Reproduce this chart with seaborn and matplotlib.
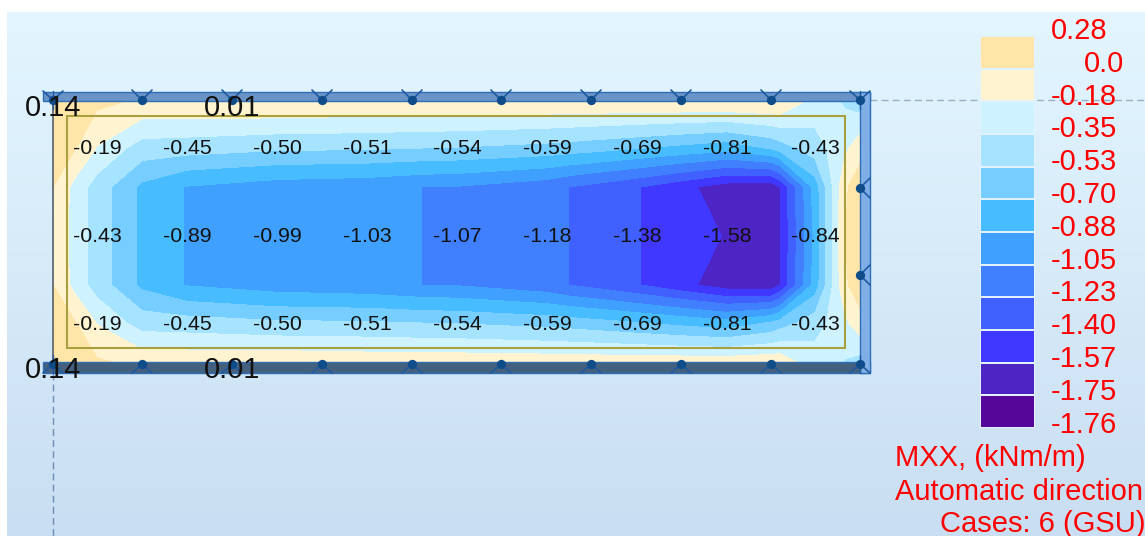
import numpy as np
import matplotlib
matplotlib.use("Agg")
import matplotlib.pyplot as plt
from matplotlib.colors import LinearSegmentedColormap, ListedColormap
from matplotlib.patches import Rectangle
import seaborn as sns

# ----------------------------------------
# DATA (MXX over the plate)
# ----------------------------------------

x_pos = [53, 75, 97, 142, 187, 277, 367, 422, 457, 547, 569, 637, 681, 727, 771, 780, 815, 845, 860]
y_pos = [100, 148, 187, 236, 285, 323, 367]

row_edge = [0.14, 0.09, 0.05, -0.02, -0.01, 0.01, -0.01, -0.01, -0.01, -0.01, -0.01, 0.0, 0.01, 0.02, 0.02, 0.01, -0.24, -0.38, -0.46]
row_upper = [0.06, 0.01, -0.19, -0.43, -0.45, -0.50, -0.51, -0.53, -0.54, -0.59, -0.61, -0.69, -0.75, -0.81, -0.68, -0.62, -0.43, -0.22, -0.07]
row_inner = [0.0, -0.24, -0.43, -0.74, -0.89, -0.97, -1.00, -1.05, -1.06, -1.16, -1.23, -1.39, -1.52, -1.66, -1.70, -1.57, -0.80, -0.03, 0.10]
row_mid = [-0.05, -0.24, -0.43, -0.74, -0.89, -0.99, -1.03, -1.05, -1.07, -1.18, -1.23, -1.39, -1.50, -1.58, -1.72, -1.57, -0.84, 0.0, 0.14]

levels = [-1.76, -1.75, -1.57, -1.40, -1.23, -1.05, -0.88, -0.70, -0.53, -0.35, -0.18, 0.0, 0.28]
band_colors = ["#FFE5A8", "#FFF4CF", "#CFF2FF", "#A5E3FF", "#75CEFF", "#47BDFF",
               "#3FA0FF", "#4080FF", "#4060FF", "#4038FF", "#4C25C4", "#56079A"]
legend_labels = ["0.28", "0.0", "-0.18", "-0.35", "-0.53", "-0.70", "-0.88",
                 "-1.05", "-1.23", "-1.40", "-1.57", "-1.75", "-1.76"]

label_x = [97, 187, 277, 367, 457, 547, 637, 727, 815]
label_y = [149, 237, 324]
upper_labels = ["-0.19", "-0.45", "-0.50", "-0.51", "-0.54", "-0.59", "-0.69", "-0.81", "-0.43"]
mid_labels = ["-0.43", "-0.89", "-0.99", "-1.03", "-1.07", "-1.18", "-1.38", "-1.58", "-0.84"]

support_x = [142, 232, 322, 412, 501, 591, 681, 771]
side_support_y = [188, 275]

# ----------------------------------------
# FIGURE
# ----------------------------------------

sns.set_theme(style="white")
plt.rcParams["font.family"] = ["Liberation Sans", "DejaVu Sans"]

fig = plt.figure(figsize=(11.45, 5.36), dpi=100, facecolor="white")
ax = fig.add_axes([0, 0, 1, 1])

# background gradient
bg = LinearSegmentedColormap.from_list("bg", ["#E3F6FF", "#C9DEF2"])
ax.imshow(np.linspace(0, 1, 256).reshape(-1, 1), cmap=bg, aspect="auto",
          extent=(7, 1145, 536, 12), zorder=0)

# plate contours
grid = np.array([row_edge, row_upper, row_inner, row_mid, row_inner, row_upper, row_edge])
ax.contourf(x_pos, y_pos, grid, levels=levels, colors=band_colors[::-1], zorder=1)

# dashed grid lines
ax.plot([870, 1145], [100, 100], color="#9AAFC4", lw=1, ls=(0, (5, 3)), zorder=2)
ax.plot([53, 53], [373, 536], color="#6E8FB5", lw=1, ls=(0, (5, 3)), zorder=2)

# inner rectangle and beams
ax.add_patch(Rectangle((67, 116), 778, 232, fill=False, ec="#A8A040", lw=1.5, zorder=3))
ax.add_patch(Rectangle((43, 92), 827, 8.5, fc="#6A94C8", ec="#2F6DB5", lw=1, zorder=3))
ax.add_patch(Rectangle((43, 362), 827, 11, fc="#44607F", ec="#2F6DB5", lw=1, zorder=3))
ax.add_patch(Rectangle((860, 92), 10, 281, fc="#80AFE8", ec="#2F6DB5", lw=1, zorder=3))
ax.plot([53, 53], [100, 362], color="#555F6A", lw=1.2, zorder=3)

# supports
arm = "#1E5AA0"
for sx in support_x:
    ax.plot([sx - 10, sx, sx + 10], [90, 100, 90], color=arm, lw=1.2, zorder=4)
    ax.plot([sx - 10, sx, sx + 10], [373, 364, 373], color=arm, lw=1.2, zorder=4)
for sy in side_support_y:
    ax.plot([870, 860, 870], [sy - 10, sy, sy + 10], color=arm, lw=1.2, zorder=4)
for cx, cy, sign in [(53, 100, -1), (860, 100, -1), (53, 364, 1), (860, 364, 1)]:
    ax.plot([cx - 10, cx, cx + 10], [cy + sign * 9, cy, cy + sign * 9], color=arm, lw=1.2, zorder=4)
    ax.plot([cx, cx], [cy - 9, cy + 9], color=arm, lw=1, zorder=4)

node_x = support_x * 2 + [860, 860] + [53, 860, 53, 860]
node_y = [100] * 8 + [364] * 8 + side_support_y + [100, 100, 364, 364]
sns.scatterplot(x=node_x, y=node_y, color="#0F4C8A", s=45, linewidth=0, ax=ax, zorder=5, legend=False)

# value labels in the plate
for lx, up, mid in zip(label_x, upper_labels, mid_labels):
    ax.text(lx, label_y[0], up, ha="center", va="center", fontsize=15.3, color="#111111", zorder=6)
    ax.text(lx, label_y[1], mid, ha="center", va="center", fontsize=15.3, color="#111111", zorder=6)
    ax.text(lx, label_y[2], up, ha="center", va="center", fontsize=15.3, color="#111111", zorder=6)

for ty in [108, 370]:
    ax.text(25, ty, "0.14", ha="left", va="center", fontsize=21, color="#111111", zorder=6)
    ax.text(204, ty, "0.01", ha="left", va="center", fontsize=21, color="#111111", zorder=6)

# legend labels and caption
for i, lab in enumerate(legend_labels):
    lx = 1084 if lab == "0.0" else 1051
    ax.text(lx, 31 + i * 32.8, lab, ha="left", va="center", fontsize=21, color="#FF0000", zorder=6)

ax.text(895, 458, "MXX, (kNm/m)", ha="left", va="center", fontsize=21, color="#FF0000", zorder=6)
ax.text(895, 492, "Automatic direction", ha="left", va="center", fontsize=21, color="#FF0000", zorder=6)
ax.text(940, 524, "Cases: 6 (GSU)", ha="left", va="center", fontsize=21, color="#FF0000", zorder=6)

ax.set_xlim(0, 1145)
ax.set_ylim(536, 0)
ax.axis("off")

# colour swatches
leg_ax = fig.add_axes([980 / 1145, 1 - 428 / 536, 55 / 1145, 392 / 536])
sns.heatmap(np.arange(12).reshape(-1, 1), cmap=ListedColormap(band_colors), vmin=0, vmax=11,
            cbar=False, xticklabels=False, yticklabels=False,
            linewidths=1.2, linecolor="#E2F1FB", ax=leg_ax)

fig.savefig("out.png", dpi=100)
